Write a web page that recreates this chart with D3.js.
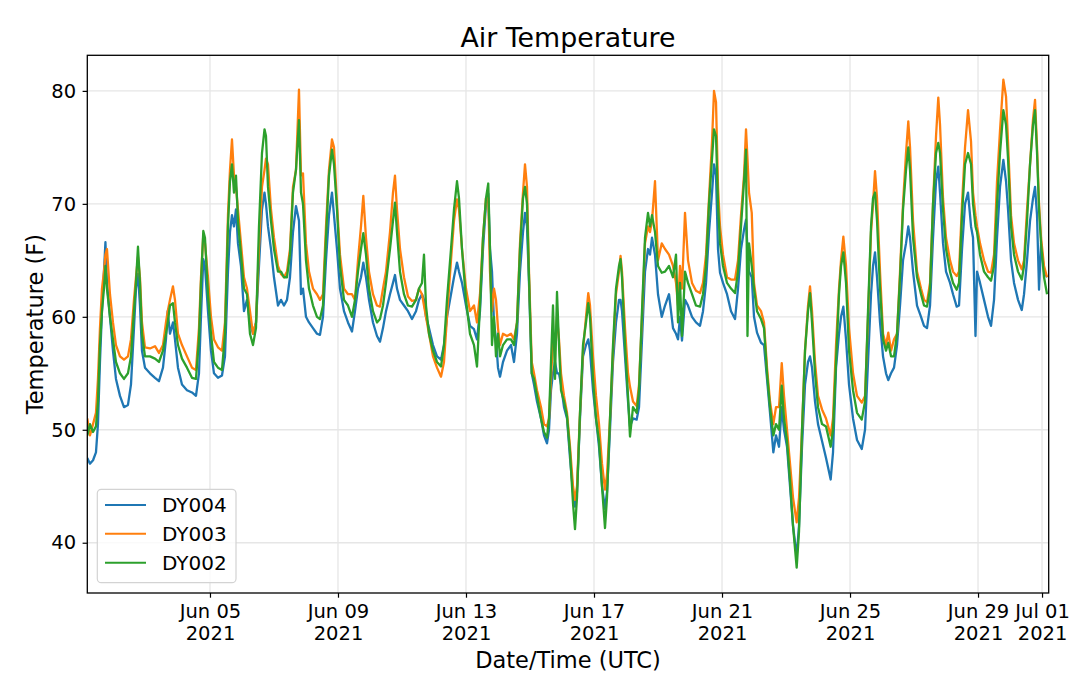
<!DOCTYPE html>
<html><head><meta charset="utf-8">
<script src="https://cdn.jsdelivr.net/npm/d3@7"></script>
<style>body{margin:0;background:#fff} svg{display:block} text{font-family:"DejaVu Sans",sans-serif;fill:#000}</style>
</head><body><svg id="c" width="1080" height="689"></svg>
<script>
// hours since 2021-06-01 00:00 UTC
const hours = [
4.0,6.0,8.3,10.5,12.0,13.5,15.0,16.5,17.6,18.75,
21.0,23.25,25.5,28.5,31.5,34.5,36.75,39.0,40.5,42.0,
43.5,45.0,47.25,51.0,54.75,57.75,60.75,63.0,64.3,66.0,
68.25,69.75,72.0,75.0,78.75,82.5,85.5,87.75,89.25,91.0,
92.25,94.5,96.75,99.0,102.0,105.0,107.25,109.5,111.0,112.5,
114.0,115.5,117.0,119.25,121.5,123.75,126.0,128.25,130.5,132.75,
135.0,136.9,138.0,139.5,141.75,144.0,147.0,149.25,151.5,153.75,
156.0,158.25,160.5,162.75,164.25,165.75,168.0,170.25,173.25,176.25,
178.5,180.75,183.0,185.25,187.5,189.0,191.25,193.5,196.5,199.5,
202.5,204.75,207.0,209.25,211.0,213.0,215.25,218.25,221.25,223.5,
225.75,228.0,231.0,233.25,234.75,236.25,238.5,241.5,244.5,247.5,
250.5,252.75,255.0,256.5,258.0,260.25,263.25,266.25,269.25,271.5,
273.75,276.75,279.0,281.25,282.75,285.0,288.0,291.0,294.0,296.25,
298.5,300.75,303.0,304.7,306.0,307.5,309.0,310.5,312.0,313.5,
315.75,318.75,321.75,324.0,326.25,328.5,330.75,332.25,333.75,335.25,
337.3,339.0,341.25,344.25,346.5,348.75,350.25,351.75,353.25,354.75,
356.25,357.75,359.25,361.5,363.75,366.0,368.25,369.75,371.25,373.5,
375.75,378.0,379.7,381.0,383.25,385.5,387.75,390.0,392.25,393.75,
396.0,398.25,400.5,402.75,403.9,405.0,407.25,409.5,411.0,413.25,
416.0,417.75,420.0,422.25,424.5,426.0,427.5,429.75,432.0,434.8,
437.25,440.25,443.25,445.5,447.0,448.5,450.0,452.25,454.5,457.5,
460.5,463.5,465.75,468.0,470.25,472.5,474.0,475.5,477.0,478.5,
480.75,483.75,486.75,489.75,492.0,494.25,496.5,498.0,499.1,500.25,
502.3,504.0,506.25,509.25,511.5,513.75,516.0,518.5,520.5,522.75,
524.8,526.5,528.75,531.0,533.25,536.0,537.75,540.0,542.25,544.5,
546.0,547.5,549.75,552.0,555.0,558.0,561.5,563.25,565.5,567.75,
569.25,571.0,573.0,575.25,578.25,581.25,584.8,587.25,589.5,591.75,
593.25,594.75,596.25,598.5,600.75,603.0,604.7,606.75,609.0,611.25,
613.5,615.75,618.0,619.7,621.0,623.25,626.25,629.25,631.5,633.75,
636.0,638.25,640.5,642.2,643.5,645.75,648.0,651.0,653.25,656.0,
657.75,660.0,662.25,664.5,666.75,668.25,670.1,671.25,673.5,676.5,
679.5,681.75,684.0,686.25,688.5,691.0,693.0,694.5,696.75,699.0,
702.0,704.8,706.5,708.75,711.0,713.25,714.75,716.25,717.75,719.25,
721.5,723.75];

const dy004 = [
47.5,47.0,47.3,48.0,50.5,56.0,60.5,64.0,66.6,63.0,
60.0,57.0,54.5,53.0,52.0,52.2,54.0,59.0,62.5,63.8,
61.0,57.0,55.5,55.0,54.6,54.3,55.5,58.0,60.5,58.5,
59.5,58.0,55.5,54.0,53.5,53.3,53.0,55.0,60.0,65.1,
64.5,60.5,57.0,55.0,54.6,54.8,56.5,64.0,67.5,69.0,
68.0,69.5,66.5,64.5,60.5,61.5,59.5,58.5,59.5,64.5,
69.5,71.0,70.0,68.0,66.0,63.5,61.0,61.5,61.0,61.5,
63.5,67.5,69.8,68.5,62.0,62.5,60.0,59.5,59.0,58.5,
58.4,60.0,65.0,69.0,71.0,69.0,66.0,62.5,60.5,59.5,
58.7,60.5,62.5,63.5,64.8,63.5,61.5,59.5,58.3,57.8,
59.0,60.5,62.0,63.0,63.7,62.5,61.5,61.0,60.5,59.8,
60.5,61.5,62.0,61.5,60.0,59.0,57.5,56.5,56.2,57.5,
60.0,62.0,63.5,64.8,64.0,63.0,61.0,59.2,58.9,58.0,
60.5,66.0,70.0,70.9,66.0,64.0,59.5,58.0,55.5,54.7,
56.0,57.0,57.5,56.0,58.5,64.0,67.5,69.2,68.0,63.0,
55.0,54.0,52.5,51.0,49.5,48.8,50.0,53.5,55.0,56.0,
55.0,55.0,54.0,52.0,51.0,47.5,44.5,43.2,44.5,51.0,
56.5,57.5,58.0,57.0,53.5,51.0,48.5,45.0,43.0,44.5,
50.0,56.0,59.5,61.5,61.5,60.5,56.5,52.5,50.3,51.0,
50.9,52.0,58.0,64.0,66.0,65.5,67.0,65.5,62.0,60.0,
61.0,62.0,59.0,58.5,58.0,60.0,57.9,61.5,61.0,60.0,
59.5,59.2,60.5,63.0,67.5,71.0,73.5,72.5,66.0,63.9,
63.0,62.0,60.5,59.8,62.5,66.0,67.7,68.6,66.0,64.0,
63.5,60.0,58.6,57.7,57.5,54.5,51.5,48.0,49.5,48.5,
52.0,50.0,48.5,45.0,41.5,38.8,41.5,48.5,54.0,56.0,
56.5,55.5,52.5,50.5,49.0,47.5,45.6,48.0,55.5,58.5,
60.0,60.9,58.0,54.0,51.0,49.1,48.3,50.0,56.0,62.0,
64.5,65.7,63.5,59.5,56.5,55.0,54.4,55.0,55.5,57.5,
61.0,65.0,66.5,68.0,67.0,64.0,61.0,60.0,59.2,59.0,
61.0,67.0,72.0,73.3,71.0,66.5,64.0,63.0,62.0,60.9,
61.0,66.0,70.0,71.0,68.0,67.0,58.3,64.0,63.0,61.5,
60.0,59.2,61.5,67.0,71.5,73.9,72.0,69.5,65.0,63.0,
61.5,60.6,62.0,65.0,68.5,70.5,71.5,69.0,62.4,66.5,
64.0,63.5];

const dy003 = [
51.0,49.5,50.5,51.5,54.5,59.0,62.5,64.0,65.5,66.0,
62.0,59.5,57.5,56.5,56.2,56.5,58.0,61.5,63.5,65.3,
63.5,59.5,57.3,57.2,57.4,56.8,57.5,59.5,60.5,61.5,
62.7,61.5,58.5,57.5,56.5,55.5,55.3,59.0,63.5,67.3,
66.5,63.5,60.0,58.0,57.3,57.0,59.5,69.0,73.0,75.7,
72.5,71.5,69.5,66.5,63.5,62.5,60.5,58.5,59.5,66.0,
71.5,73.0,74.0,73.5,69.5,67.0,64.5,63.8,63.5,64.0,
66.0,71.5,73.0,80.1,72.5,72.7,66.5,64.0,62.5,62.0,
61.5,62.0,68.0,73.0,75.7,75.0,70.0,65.5,62.5,62.0,
62.0,61.5,65.0,68.0,70.7,67.0,64.0,62.0,61.0,60.9,
62.5,64.0,67.5,71.0,72.5,69.5,66.0,63.5,61.8,61.4,
61.5,62.5,62.0,61.0,60.0,58.5,56.5,55.5,54.7,56.0,
60.0,65.0,68.5,70.4,69.5,66.0,62.5,60.5,61.0,59.5,
62.0,67.0,70.5,70.5,64.0,60.5,62.5,61.5,59.0,57.5,
58.5,58.3,58.5,58.0,59.5,66.5,71.0,73.5,71.5,64.0,
56.0,55.0,53.5,52.0,50.5,50.3,51.0,54.5,58.0,57.0,
60.0,58.0,55.0,53.0,51.5,48.5,45.0,43.8,45.0,51.5,
57.0,60.0,62.1,61.0,56.5,53.0,50.5,47.0,44.7,46.0,
51.0,57.0,62.0,64.0,65.4,64.0,59.0,55.0,53.8,52.5,
52.1,54.0,60.0,66.5,68.0,67.5,68.5,72.0,65.0,66.5,
66.0,65.5,64.5,63.0,61.0,64.5,62.5,69.2,65.0,63.0,
62.3,62.1,63.0,65.5,70.5,75.5,80.0,79.0,71.5,68.0,
65.5,63.5,63.3,63.3,65.0,69.0,72.5,76.6,74.0,71.0,
69.2,63.0,61.0,60.5,59.5,55.5,52.5,50.5,52.0,52.0,
55.9,53.0,50.0,47.0,44.0,41.8,44.0,50.0,57.0,61.0,
62.7,60.5,56.0,53.0,51.8,51.0,49.5,51.0,57.5,62.5,
65.0,67.1,64.5,59.0,55.0,53.0,52.4,53.0,60.0,67.5,
70.0,72.9,70.5,64.0,58.5,57.5,58.6,57.0,58.0,58.5,
64.0,70.0,74.5,77.3,75.0,68.5,64.0,62.5,61.5,61.3,
63.0,70.0,76.0,79.4,77.0,70.5,67.0,65.0,64.0,63.6,
64.0,70.0,75.0,78.3,75.5,71.0,69.0,68.0,66.5,65.0,
64.0,63.9,65.5,72.0,76.5,81.0,79.5,75.5,69.0,66.5,
65.0,64.2,65.0,69.5,73.5,77.5,79.2,75.0,70.0,67.0,
64.5,63.5];

const dy002 = [
49.5,50.5,49.8,50.3,52.5,57.5,60.5,62.5,64.5,62.5,
60.0,58.0,56.0,55.0,54.5,55.0,56.5,60.5,63.0,66.2,
63.0,58.5,56.5,56.5,56.3,56.0,57.0,58.5,59.5,61.0,
61.2,59.5,57.5,56.3,55.5,54.6,54.5,58.0,63.0,67.6,
67.0,62.0,58.5,56.0,55.5,55.3,58.5,68.0,72.0,73.5,
71.0,72.5,68.5,65.5,62.5,62.0,58.5,57.5,59.0,68.0,
74.5,76.6,76.0,71.5,68.5,66.0,64.0,64.0,63.5,63.5,
65.5,71.0,73.0,77.4,71.0,70.0,65.0,62.5,61.0,60.0,
59.8,61.0,67.0,72.5,74.8,73.5,69.5,64.5,61.5,61.0,
60.0,61.5,64.0,66.0,67.4,65.5,62.5,60.5,59.5,59.8,
61.0,63.0,66.0,68.5,70.1,67.5,64.0,62.0,61.0,60.9,
61.5,62.5,63.0,65.5,61.0,58.5,57.0,56.0,55.6,57.5,
61.5,66.0,69.5,72.0,70.5,66.0,61.5,58.5,57.5,55.6,
61.0,67.0,70.5,71.8,66.0,57.5,60.0,56.5,58.5,56.5,
57.5,58.0,58.0,57.5,59.5,66.0,70.5,71.5,70.0,63.5,
55.0,54.5,53.0,51.0,49.8,49.3,51.0,56.0,61.0,54.5,
62.2,57.5,53.5,52.5,51.2,48.0,43.5,41.2,44.0,51.5,
57.5,59.5,61.2,60.0,54.5,51.0,49.0,45.0,41.3,44.0,
51.0,57.5,62.5,64.5,65.1,63.5,57.5,53.0,49.4,52.0,
51.5,53.5,60.5,67.0,69.2,68.0,69.0,67.5,64.5,63.9,
64.0,64.5,63.5,65.5,59.5,63.0,58.3,64.0,63.0,62.0,
61.0,60.9,62.0,64.5,70.0,74.0,76.6,76.0,70.0,66.5,
64.5,63.0,62.5,62.1,64.0,68.0,72.0,74.8,58.3,66.5,
64.5,62.5,60.5,59.8,59.0,55.0,52.0,49.5,50.5,50.0,
53.9,51.0,49.0,45.5,41.5,37.8,41.0,50.0,57.0,60.5,
62.1,59.5,55.0,52.0,50.5,50.3,48.5,50.0,56.0,62.0,
64.5,65.7,63.0,57.0,53.5,51.5,50.9,52.5,60.5,68.0,
70.5,71.0,68.5,62.5,58.0,57.0,57.7,56.5,56.5,58.5,
63.5,69.5,73.0,75.0,73.0,67.0,63.5,62.0,61.0,60.9,
62.5,70.0,74.5,75.4,74.5,69.5,66.0,64.0,63.0,62.4,
63.0,69.0,73.5,74.5,73.5,70.0,68.0,67.5,65.5,64.0,
63.5,63.2,64.5,70.0,74.5,78.3,77.0,74.0,68.0,65.5,
64.0,63.3,64.5,68.5,73.5,77.0,78.3,74.5,69.5,66.5,
63.5,62.0];

const seriesNames = ["DY004","DY003","DY002"];
const seriesColors = ["#1f77b4","#ff7f0e","#2ca02c"];
const xTickDates = ["2021-06-05","2021-06-09","2021-06-13","2021-06-17","2021-06-21","2021-06-25","2021-06-29","2021-07-01"];
const yTicks = [40,50,60,70,80];

const base = Date.UTC(2021,5,1);
const toDate = h => new Date(base + h*3600e3);
const L=87.3, R=1048.7, T=55.3, B=593;
const x = d3.scaleUtc().domain([toDate(4.0), toDate(725.0)]).range([L,R]);
const y = d3.scaleLinear().domain([35.55,83.15]).range([B,T]);

const svg = d3.select("#c");
const xTicks = xTickDates.map(s => new Date(s+"T00:00:00Z"));

// grid
const grid = svg.append("g").attr("stroke","#e6e6e6").attr("stroke-width",1.3);
grid.selectAll("line.v").data(xTicks).join("line").attr("class","v")
  .attr("x1",d=>x(d)).attr("x2",d=>x(d)).attr("y1",T).attr("y2",B);
grid.selectAll("line.h").data(yTicks).join("line").attr("class","h")
  .attr("x1",L).attr("x2",R).attr("y1",d=>y(d)).attr("y2",d=>y(d));

// clip
svg.append("clipPath").attr("id","clip").append("rect")
  .attr("x",L).attr("y",T).attr("width",R-L).attr("height",B-T);

const data = [dy004, dy003, dy002];
const line = d3.line().x((d,i)=>x(toDate(hours[i]))).y(d=>y(d));
const lg = svg.append("g").attr("clip-path","url(#clip)");
data.forEach((vals,k)=>{
  lg.append("path").attr("d",line(vals)).attr("fill","none")
    .attr("stroke",seriesColors[k]).attr("stroke-width",2.3).attr("stroke-linejoin","round");
});

// axes
const xAxis = d3.axisBottom(x).tickValues(xTicks).tickSize(4.7).tickPadding(5).tickFormat("");
const gx = svg.append("g").attr("transform",`translate(0,${B})`).call(xAxis);
gx.select(".domain").remove();
gx.selectAll(".tick line").attr("stroke","#000").attr("stroke-width",1.2);
const fmt = d3.utcFormat("%b %d");
gx.selectAll(".tick").each(function(d){
  const g = d3.select(this);
  g.append("text").attr("y",25.3).attr("text-anchor","middle").attr("font-size",19.5).attr("fill","#000").text(fmt(d));
  g.append("text").attr("y",47).attr("text-anchor","middle").attr("font-size",19.5).attr("fill","#000").text(d.getUTCFullYear());
});

const yAxis = d3.axisLeft(y).tickValues(yTicks).tickSize(4.7).tickPadding(6.5);
const gy = svg.append("g").attr("transform",`translate(${L},0)`).call(yAxis);
gy.select(".domain").remove();
gy.selectAll(".tick line").attr("stroke","#000").attr("stroke-width",1.2);
gy.selectAll(".tick text").attr("font-size",19.5).attr("fill","#000").attr("font-family","DejaVu Sans");

svg.append("rect").attr("x",L).attr("y",T).attr("width",R-L).attr("height",B-T)
  .attr("fill","none").attr("stroke","#000").attr("stroke-width",1.3);

// labels
svg.append("text").attr("x",(L+R)/2).attr("y",46.7).attr("text-anchor","middle").attr("font-size",26.8).text("Air Temperature");
svg.append("text").attr("x",(L+R)/2).attr("y",668).attr("text-anchor","middle").attr("font-size",22.5).text("Date/Time (UTC)");
svg.append("text").attr("transform",`translate(43,${(T+B)/2}) rotate(-90)`).attr("text-anchor","middle").attr("font-size",22.5).text("Temperature (F)");

// legend
const leg = svg.append("g");
leg.append("rect").attr("x",97.3).attr("y",489.3).attr("width",138.7).attr("height",93.4).attr("rx",4)
  .attr("fill","#fff").attr("fill-opacity",0.8).attr("stroke","#d3d3d3").attr("stroke-width",1.2);
const rowY = [505, 533.8, 562.7];
seriesNames.forEach((n,k)=>{
  leg.append("line").attr("x1",105).attr("x2",146).attr("y1",rowY[k]).attr("y2",rowY[k])
    .attr("stroke",seriesColors[k]).attr("stroke-width",2);
  leg.append("text").attr("x",162).attr("y",rowY[k]+7.2).attr("font-size",20).text(n);
});
</script></body></html>
